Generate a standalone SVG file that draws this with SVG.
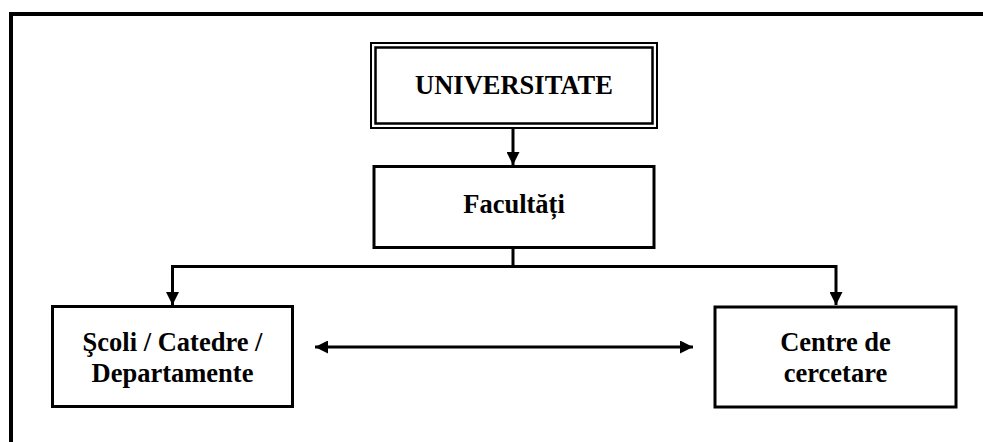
<svg xmlns="http://www.w3.org/2000/svg" width="983" height="442" viewBox="0 0 983 442">
  <defs>
    <marker id="arrow" markerUnits="userSpaceOnUse" markerWidth="14" markerHeight="13" refX="13" refY="6.5" orient="auto">
      <path d="M0,0 L13,6.5 L0,13 Z" fill="#000"/>
    </marker>
    <marker id="arrow-start" markerUnits="userSpaceOnUse" markerWidth="14" markerHeight="13" refX="0" refY="6.5" orient="auto">
      <path d="M13,0 L0,6.5 L13,13 Z" fill="#000"/>
    </marker>
  </defs>
  <style>
    .frame { fill: none; stroke: #000; stroke-width: 4; }
    .box { fill: #fff; stroke: #000; stroke-width: 3; }
    .outer { fill: #fff; stroke: #000; stroke-width: 2; }
    .inner { fill: none; stroke: #000; stroke-width: 2.5; }
    .link { fill: none; stroke: #000; stroke-width: 3; }
    .label { font-family: "Liberation Serif", "Times New Roman", serif; font-weight: bold; font-size: 26.5px; fill: #000; text-anchor: middle; }
  </style>

  <rect width="983" height="442" fill="#fff"/>

  <!-- page frame -->
  <path class="frame" d="M11,442 V14 H983"/>

  <!-- connectors -->
  <g id="connectors">
    <line class="link" x1="513" y1="128" x2="513" y2="165" marker-end="url(#arrow)"/>
    <polyline class="link" points="513,248 513,266.5"/>
    <polyline class="link" points="513,266.5 172.5,266.5 172.5,305" marker-end="url(#arrow)"/>
    <polyline class="link" points="513,266.5 836,266.5 836,305" marker-end="url(#arrow)"/>
    <line class="link" x1="315" y1="347" x2="693" y2="347" marker-start="url(#arrow-start)" marker-end="url(#arrow)"/>
  </g>

  <!-- nodes -->
  <g id="universitate">
    <rect class="outer" x="371" y="43" width="286" height="85"/>
    <rect class="inner" x="375.5" y="47.5" width="277" height="76"/>
    <text class="label" x="514" y="94">UNIVERSITATE</text>
  </g>

  <g id="facultati">
    <rect class="box" x="374" y="166.5" width="280" height="81"/>
    <text class="label" x="514" y="213">Facultăți</text>
  </g>

  <g id="scoli">
    <rect class="box" x="52.5" y="306.5" width="240" height="100"/>
    <text class="label" x="172.5" y="351">Şcoli / Catedre /</text>
    <text class="label" x="172.5" y="382">Departamente</text>
  </g>

  <g id="centre">
    <rect class="box" x="715" y="307" width="241" height="100"/>
    <text class="label" x="835.5" y="351">Centre de</text>
    <text class="label" x="835.5" y="382">cercetare</text>
  </g>
</svg>
